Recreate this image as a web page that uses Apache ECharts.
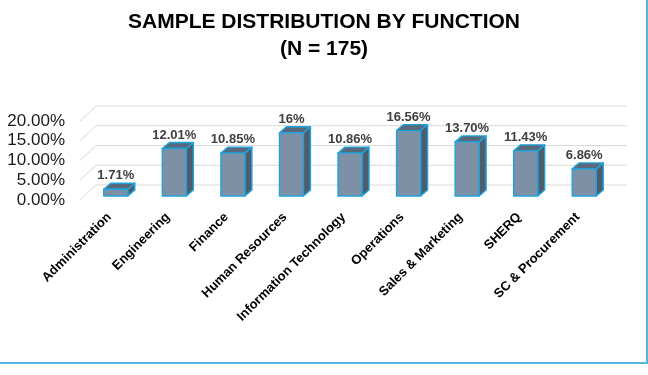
<!DOCTYPE html>
<html>
<head>
<meta charset="utf-8">
<title>Sample distribution by function</title>
<script src="https://cdn.jsdelivr.net/npm/echarts@6/dist/echarts.min.js"></script>
<style>
  html, body { margin: 0; padding: 0; background: #fff; }
  #main { width: 648px; height: 375px; }
</style>
</head>
<body>
<div id="main"></div>
<script>
'use strict';
var categories = ['Administration', 'Engineering', 'Finance', 'Human Resources', 'Information Technology',
  'Operations', 'Sales & Marketing', 'SHERQ', 'SC & Procurement'];
var shares = [1.71, 12.01, 10.85, 16, 10.86, 16.56, 13.70, 11.43, 6.86];
var shareLabels = ['1.71%', '12.01%', '10.85%', '16%', '10.86%', '16.56%', '13.70%', '11.43%', '6.86%'];
var yTicks = [0, 5, 10, 15, 20];

var FONT = '"Liberation Sans", Arial, sans-serif';

// 3d look, in px
var floorDx = 16, floorDy = -15;   // depth of the floor
var barOx = 6.5, barOy = -4;       // where the bar front sits in the depth
var barDx = 7, barDy = -6;         // depth of one bar
var barW = 24;

var chart = echarts.init(document.getElementById('main'));

// gridlines drawn with a bit of perspective (front diagonal + back wall line)
function renderGridLine(params, api) {
  var cs = params.coordSys;
  var y = api.coord([0, api.value(1)])[1];
  return {
    type: 'polyline',
    shape: {
      points: [[cs.x, y], [cs.x + floorDx, y + floorDy], [cs.x + cs.width + 20, y + floorDy]]
    },
    style: { stroke: '#d9d9d9', lineWidth: 1, fill: null },
    silent: true
  };
}

// a box: front face, right side, top
function renderBar(params, api) {
  var idx = api.value(0);
  var base = api.coord([idx, 0]);
  var top = api.coord([idx, api.value(1)]);
  var x0 = base[0] - barW / 2 + barOx;
  var x1 = x0 + barW;
  var yb = base[1] + barOy;
  var yt = top[1] + barOy;
  var edge = { stroke: '#1fa3dc', lineWidth: 1.4, lineJoin: 'round' };
  return {
    type: 'group',
    children: [
      {
        type: 'polygon',
        shape: { points: [[x1, yb], [x1, yt], [x1 + barDx, yt + barDy], [x1 + barDx, yb + barDy]] },
        style: Object.assign({ fill: '#4d5d6e' }, edge)
      },
      {
        type: 'polygon',
        shape: { points: [[x0, yt], [x1, yt], [x1 + barDx, yt + barDy], [x0 + barDx, yt + barDy]] },
        style: Object.assign({ fill: '#58697c' }, edge)
      },
      {
        type: 'rect',
        shape: { x: x0, y: yt, width: barW, height: yb - yt },
        style: Object.assign({ fill: '#7e90a6' }, edge)
      },
      {
        type: 'text',
        style: {
          text: shareLabels[idx],
          x: (x0 + x1) / 2,
          y: yt + barDy - 7.5,
          align: 'center',
          verticalAlign: 'middle',
          font: 'bold 13px ' + FONT,
          fill: '#404040'
        }
      }
    ]
  };
}

chart.setOption({
  backgroundColor: '#fff',
  animation: false,
  title: {
    text: 'SAMPLE DISTRIBUTION BY FUNCTION\n(N = 175)',
    left: 'center',
    top: 4,
    textStyle: {
      fontFamily: FONT,
      fontSize: 21,
      fontWeight: 'bold',
      color: '#000',
      lineHeight: 27
    }
  },
  graphic: [{
    type: 'rect',
    shape: { x: -10, y: -10, width: 657, height: 373 },
    style: { fill: null, stroke: '#4fb8e0', lineWidth: 2 },
    silent: true
  }],
  grid: { left: 80, right: 41, top: 121, bottom: 175 },
  xAxis: {
    type: 'category',
    data: categories,
    axisLine: { show: false },
    axisTick: { show: false },
    axisLabel: {
      interval: 0,
      rotate: 45,
      margin: 15,
      fontFamily: FONT,
      fontSize: 13,
      fontWeight: 'bold',
      color: '#000'
    }
  },
  yAxis: {
    type: 'value',
    min: 0,
    max: 20,
    interval: 5,
    axisLine: { show: false },
    axisTick: { show: false },
    splitLine: { show: false },
    axisLabel: {
      margin: 15,
      fontFamily: FONT,
      fontSize: 17,
      color: '#1a1a1a',
      formatter: function(v) { return v.toFixed(2) + '%'; }
    }
  },
  series: [
    {
      type: 'custom',
      renderItem: renderGridLine,
      data: yTicks.map(function(t) { return [0, t]; }),
      z: 1,
      silent: true
    },
    {
      type: 'custom',
      renderItem: renderBar,
      data: shares.map(function(v, i) { return [i, v]; }),
      z: 2
    }
  ]
});
</script>
</body>
</html>
